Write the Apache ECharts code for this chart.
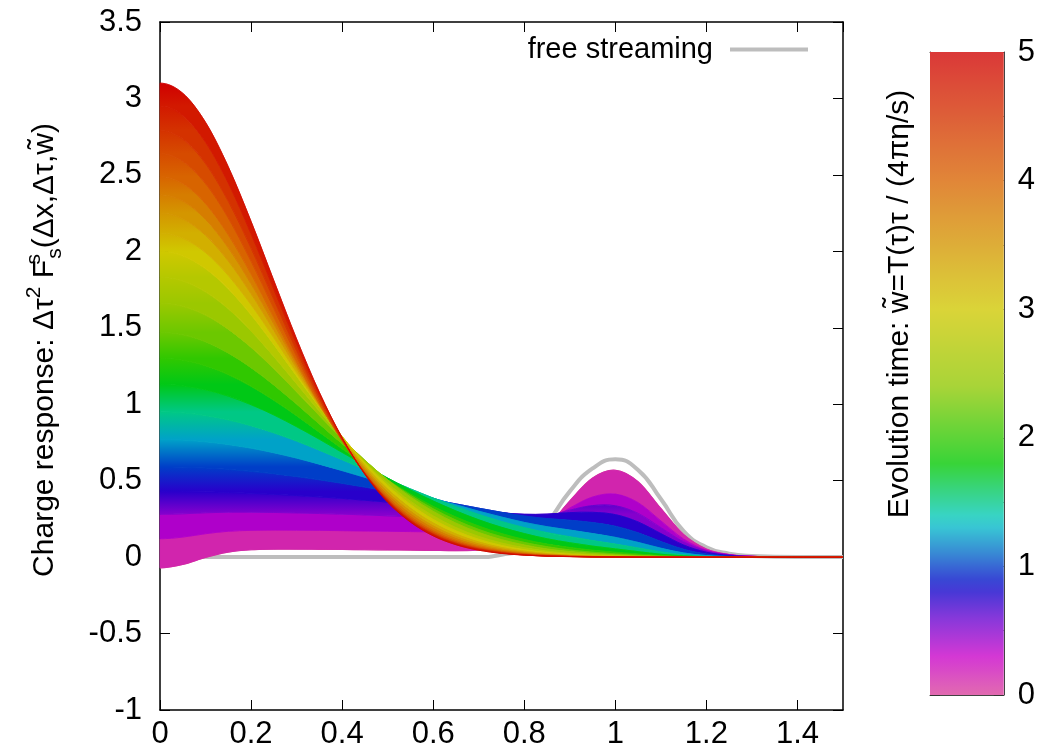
<!DOCTYPE html>
<html><head><meta charset="utf-8">
<script src="https://cdn.jsdelivr.net/npm/echarts@6/dist/echarts.min.js"></script>
<style>html,body{margin:0;padding:0;background:#fff}#c{width:1038px;height:750px}</style>
</head><body><div id="c"></div>
<script>
// x positions (Δx) at which every curve is read
const X = [0,0.05,0.1,0.15,0.2,0.25,0.3,0.35,0.4,0.45,0.5,0.55,0.6,0.65,0.7,0.75,0.8,0.85,0.9,0.95,1.0,1.05,1.1,1.15,1.2,1.25,1.3,1.4,1.5];
// evolution times w~ of the drawn curves
const W = [0,0.25,0.5,0.75,1,1.25,1.5,1.75,2,2.25,2.5,2.75,3,3.25,3.5,3.75,4,4.25,4.5,4.75,5];

const f_w000 = [-0.07,-0.048,-0.002,0.033,0.048,0.052,0.052,0.051,0.050,0.048,0.047,0.046,0.044,0.042,0.046,0.055,0.091,0.197,0.368,0.517,0.568,0.493,0.318,0.148,0.053,0.017,0.005,0,0];
const f_w025 = [0.12,0.131,0.153,0.169,0.175,0.177,0.176,0.175,0.173,0.171,0.169,0.167,0.165,0.162,0.162,0.165,0.181,0.234,0.321,0.393,0.412,0.356,0.237,0.118,0.045,0.016,0.005,0,0];
const f_w050 = [0.28,0.283,0.290,0.294,0.294,0.292,0.289,0.285,0.281,0.276,0.270,0.265,0.258,0.252,0.246,0.242,0.245,0.267,0.307,0.337,0.336,0.286,0.193,0.100,0.040,0.014,0.005,0,0];
const f_w075 = [0.430,0.429,0.427,0.423,0.418,0.411,0.403,0.394,0.384,0.372,0.360,0.347,0.333,0.318,0.304,0.290,0.280,0.281,0.291,0.293,0.278,0.230,0.154,0.079,0.032,0.011,0.003,0,0];
const f_w100 = [0.590,0.588,0.583,0.574,0.561,0.546,0.527,0.506,0.483,0.458,0.432,0.404,0.376,0.348,0.320,0.293,0.269,0.252,0.241,0.226,0.202,0.159,0.102,0.051,0.020,0.006,0.002,0,0];
const f_w125 = [0.770,0.766,0.755,0.737,0.713,0.683,0.648,0.608,0.566,0.522,0.476,0.430,0.385,0.342,0.300,0.262,0.227,0.199,0.177,0.154,0.129,0.096,0.058,0.027,0.010,0.003,0.001,0,0];
const f_w150 = [0.950,0.944,0.927,0.898,0.860,0.813,0.759,0.699,0.637,0.573,0.509,0.446,0.386,0.330,0.279,0.233,0.193,0.160,0.133,0.108,0.085,0.060,0.034,0.015,0.005,0.002,0,0,0];
const f_w175 = [1.130,1.121,1.095,1.053,0.997,0.930,0.853,0.771,0.685,0.600,0.517,0.439,0.367,0.302,0.244,0.195,0.154,0.120,0.094,0.072,0.054,0.036,0.019,0.008,0.003,0.001,0,0,0];
const f_w200 = [1.300,1.288,1.252,1.194,1.117,1.026,0.925,0.817,0.709,0.604,0.504,0.413,0.332,0.262,0.203,0.154,0.115,0.085,0.063,0.045,0.032,0.020,0.010,0.004,0.001,0,0,0,0];
const f_w225 = [1.470,1.454,1.409,1.335,1.239,1.126,1.001,0.871,0.742,0.619,0.505,0.404,0.316,0.242,0.181,0.133,0.096,0.068,0.047,0.032,0.021,0.012,0.006,0.002,0.001,0,0,0,0];
const f_w250 = [1.660,1.640,1.583,1.491,1.372,1.233,1.081,0.926,0.775,0.633,0.505,0.393,0.299,0.222,0.161,0.114,0.079,0.053,0.036,0.023,0.014,0.008,0.004,0.001,0,0,0,0,0];
const f_w275 = [1.830,1.806,1.735,1.624,1.479,1.312,1.134,0.954,0.781,0.623,0.484,0.366,0.270,0.193,0.135,0.092,0.061,0.039,0.025,0.015,0.008,0.004,0.002,0.001,0,0,0,0,0];
const f_w300 = [2.000,1.971,1.887,1.755,1.585,1.391,1.185,0.981,0.789,0.616,0.468,0.345,0.247,0.172,0.116,0.076,0.048,0.030,0.018,0.010,0.006,0.003,0.001,0,0,0,0,0,0];
const f_w325 = [2.120,2.087,1.992,1.842,1.651,1.435,1.208,0.986,0.780,0.598,0.444,0.320,0.223,0.151,0.099,0.063,0.039,0.023,0.013,0.007,0.004,0.002,0.001,0,0,0,0,0,0];
const f_w350 = [2.250,2.213,2.105,1.937,1.723,1.483,1.235,0.994,0.774,0.583,0.425,0.300,0.204,0.135,0.086,0.053,0.032,0.018,0.010,0.005,0.003,0.001,0,0,0,0,0,0,0];
const f_w375 = [2.370,2.329,2.209,2.023,1.788,1.526,1.258,1.000,0.768,0.569,0.408,0.282,0.188,0.121,0.075,0.045,0.026,0.015,0.008,0.004,0.002,0.001,0,0,0,0,0,0,0];
const f_w400 = [2.490,2.444,2.312,2.108,1.852,1.567,1.278,1.005,0.761,0.556,0.391,0.265,0.173,0.109,0.066,0.039,0.022,0.012,0.006,0.003,0.001,0,0,0,0,0,0,0,0];
const f_w425 = [2.640,2.589,2.443,2.218,1.936,1.626,1.314,1.021,0.764,0.549,0.380,0.253,0.162,0.100,0.059,0.034,0.019,0.010,0.005,0.002,0.001,0,0,0,0,0,0,0,0];
const f_w450 = [2.790,2.734,2.574,2.327,2.021,1.685,1.350,1.039,0.768,0.545,0.372,0.243,0.153,0.092,0.054,0.030,0.016,0.008,0.004,0.002,0.001,0,0,0,0,0,0,0,0];
const f_w475 = [2.950,2.889,2.714,2.446,2.114,1.752,1.394,1.063,0.778,0.546,0.367,0.237,0.147,0.087,0.050,0.027,0.014,0.007,0.004,0.002,0.001,0,0,0,0,0,0,0,0];
const f_w500 = [3.100,3.034,2.844,2.553,2.196,1.809,1.427,1.078,0.781,0.541,0.359,0.229,0.139,0.081,0.045,0.024,0.013,0.006,0.003,0.001,0.001,0,0,0,0,0,0,0,0];

// free streaming reference curve
const FREE = [0,0,0,0,0,0,0,0,0,0,0,0,0,0,0,0.015,0.06,0.22,0.43,0.58,0.64,0.57,0.38,0.17,0.065,0.022,0.007,0,0];

// colour palette (evolution time -> colour)
const PAL_W = [0, 0.3, 0.6, 0.85, 1.1, 1.35, 1.8, 2.4, 3.0, 4.0, 5.0];
const PAL_C = ['#d8409a','#c800c8','#6400d0','#0000c8','#0068c8','#00c8c8','#00c800','#90c800','#d0c800','#d86400','#d00000'];

const CURVES = [f_w000,f_w025,f_w050,f_w075,f_w100,f_w125,f_w150,f_w175,f_w200,f_w225,f_w250,f_w275,f_w300,f_w325,f_w350,f_w375,f_w400,f_w425,f_w450,f_w475,f_w500];

const FF = '"Liberation Sans", Arial, Helvetica, sans-serif';

function hex2rgb(h){ return [parseInt(h.substr(1,2),16),parseInt(h.substr(3,2),16),parseInt(h.substr(5,2),16)]; }
function palRGB(w){
  if (w <= PAL_W[0]) return hex2rgb(PAL_C[0]);
  for (let i=1;i<PAL_W.length;i++){
    if (w <= PAL_W[i]) {
      const t = (w-PAL_W[i-1])/(PAL_W[i]-PAL_W[i-1]);
      const a = hex2rgb(PAL_C[i-1]), b = hex2rgb(PAL_C[i]);
      return [0,1,2].map(j => Math.round(a[j]+(b[j]-a[j])*t));
    }
  }
  return hex2rgb(PAL_C[PAL_C.length-1]);
}
function pal(w){ const c = palRGB(w); return 'rgb('+c.join(',')+')'; }
function palLight(w){ const c = palRGB(w).map(v => Math.round(v*0.78 + 255*0.22)); return 'rgb('+c.join(',')+')'; }

// Catmull-Rom through the projected points; the curves are even in Δx, so the
// left end uses a mirrored neighbour (zero slope at Δx = 0)
function smoothPath(pts, move, mirrorStart, mirrorEnd){
  const n = pts.length;
  const get = (i) => {
    if (i < 0) return mirrorStart ? [2*pts[0][0]-pts[1][0], pts[1][1]] : pts[0];
    if (i > n-1) return mirrorEnd ? [2*pts[n-1][0]-pts[n-2][0], pts[n-2][1]] : pts[n-1];
    return pts[i];
  };
  let d = (move ? 'M' : 'L') + pts[0][0].toFixed(2) + ' ' + pts[0][1].toFixed(2);
  for (let i=0;i<n-1;i++){
    const p0 = get(i-1), p1 = pts[i], p2 = pts[i+1], p3 = get(i+2);
    const c1x = p1[0] + (p2[0]-p0[0])/6, c1y = p1[1] + (p2[1]-p0[1])/6;
    const c2x = p2[0] - (p3[0]-p1[0])/6, c2y = p2[1] - (p3[1]-p1[1])/6;
    d += ' C' + c1x.toFixed(2)+' '+c1y.toFixed(2)+' '+c2x.toFixed(2)+' '+c2y.toFixed(2)+' '+p2[0].toFixed(2)+' '+p2[1].toFixed(2);
  }
  return d;
}
function curvePts(api, arr){ return X.map((x,i) => api.coord([x, arr[i] == null ? 0 : arr[i]])); }

const chart = echarts.init(document.getElementById('c'), null, {renderer:'canvas'});

const cbStops = [];
for (let i=0;i<=50;i++){ const w = i/10; cbStops.push({offset: w/5, color: palLight(w)}); }

const axisLineStyle = {color:'#000', width:1.5};
const labelStyle = {fontSize: 31, fontFamily: FF, color:'#000'};

chart.setOption({
  animation: false,
  backgroundColor: '#fff',
  grid: [
    {left:160, top:22, width:683, height:688},
    {left:930, top:52, width:90, height:643}
  ],
  xAxis: [
    {gridIndex:0, type:'value', min:0, max:1.5, interval:0.2, position:'bottom',
     axisLine:{show:true, onZero:false, lineStyle:axisLineStyle},
     axisTick:{show:true, inside:true, length:10, lineStyle:{color:'#000', width:1}},
     axisLabel:{...labelStyle, margin:9, showMaxLabel:false}, splitLine:{show:false}},
    {gridIndex:0, type:'value', min:0, max:1.5, interval:0.2, position:'top',
     axisLine:{show:true, onZero:false, lineStyle:axisLineStyle},
     axisTick:{show:true, inside:true, length:10, lineStyle:{color:'#000', width:1}},
     axisLabel:{show:false}, splitLine:{show:false}},
    {gridIndex:1, type:'value', min:0, max:1, position:'bottom',
     axisLine:{show:true, onZero:false, lineStyle:{color:'#444', width:1}},
     axisTick:{show:false}, axisLabel:{show:false}, splitLine:{show:false}},
    {gridIndex:1, type:'value', min:0, max:1, position:'top',
     axisLine:{show:true, onZero:false, lineStyle:{color:'#444', width:1}},
     axisTick:{show:false}, axisLabel:{show:false}, splitLine:{show:false}}
  ],
  yAxis: [
    {gridIndex:0, type:'value', min:-1, max:3.5, interval:0.5, position:'left',
     axisLine:{show:true, onZero:false, lineStyle:axisLineStyle},
     axisTick:{show:true, inside:true, length:10, lineStyle:{color:'#000', width:1}},
     axisLabel:{...labelStyle, margin:18}, splitLine:{show:false}},
    {gridIndex:0, type:'value', min:-1, max:3.5, interval:0.5, position:'right',
     axisLine:{show:true, onZero:false, lineStyle:axisLineStyle},
     axisTick:{show:true, inside:true, length:10, lineStyle:{color:'#000', width:1}},
     axisLabel:{show:false}, splitLine:{show:false}},
    {gridIndex:1, type:'value', min:0, max:5, interval:1, position:'right',
     axisLine:{show:true, onZero:false, lineStyle:{color:'#444', width:1}},
     axisTick:{show:true, inside:true, length:10, lineStyle:{color:'#333', width:1}},
     minorTick:{show:true, splitNumber:2, length:10, lineStyle:{color:'#333', width:1}},
     axisLabel:{...labelStyle, margin:14}, splitLine:{show:false}},
    {gridIndex:1, type:'value', min:0, max:5, interval:1, position:'left',
     axisLine:{show:true, onZero:false, lineStyle:{color:'#444', width:1}},
     axisTick:{show:true, inside:true, length:10, lineStyle:{color:'#333', width:1}},
     minorTick:{show:true, splitNumber:2, length:10, lineStyle:{color:'#333', width:1}},
     axisLabel:{show:false}, splitLine:{show:false}}
  ],
  legend: {
    data:[{name:'free streaming', icon:'rect'}], right:225, top:30, align:'right',
    itemWidth:78, itemHeight:4,
    textStyle:{fontSize:29, fontFamily:FF, color:'#000', padding:[0,12,0,0]}
  },
  graphic: [
    {type:'text', x:45, y:350, rotation:Math.PI/2, z:10,
     style:{
       text:'{a|Charge response: Δτ}{p|2}{a| F}{q|s}{b|s}{a|(Δx,Δτ,w\u0303)}',
       align:'center', verticalAlign:'middle', textAlign:'center', textVerticalAlign:'middle',
       rich:{
         a:{fontSize:30, fontFamily:FF, fill:'#000', lineHeight:42, verticalAlign:'middle'},
         p:{fontSize:21, fontFamily:FF, fill:'#000', lineHeight:21, verticalAlign:'top'},
         q:{fontSize:21, fontFamily:FF, fill:'#000', lineHeight:21, verticalAlign:'top', width:1},
         b:{fontSize:21, fontFamily:FF, fill:'#000', lineHeight:21, verticalAlign:'bottom'}
       }
     }},
    {type:'text', x:900, y:304, rotation:Math.PI/2, z:10,
     style:{
       text:'Evolution time: w\u0303=T(τ)τ / (4πη/s)',
       font:'30px ' + FF, fill:'#000',
       align:'center', verticalAlign:'middle', textAlign:'center', textVerticalAlign:'middle'
     }}
  ],
  series: [
    {name:'free streaming', type:'line', xAxisIndex:0, yAxisIndex:0, z:1,
     data: X.map((x,i) => [x, FREE[i]]), symbol:'none', showSymbol:false, smooth:0.5,
     lineStyle:{color:'#bdbdbd', width:4}, itemStyle:{color:'#bdbdbd'}},
    {name:'curves', type:'custom', xAxisIndex:0, yAxisIndex:0, z:2,
     data: CURVES.map(() => [0, 0]),
     renderItem: function(params, api){
       const k = params.dataIndex;
       const up = curvePts(api, CURVES[k]);
       const upPath = smoothPath(up, true, true, false);
       if (k === 0) {
         return {type:'path', shape:{pathData: upPath}, style:{fill:'none', stroke: pal(W[0]), lineWidth:1.2}};
       }
       const lo = curvePts(api, CURVES[k-1]);
       const d = upPath + ' ' + smoothPath(lo.slice().reverse(), false, false, true) + ' Z';
       let fill;
       if (k >= 3) {
         // vertical colour blend between the two bounding curves, anchored at Δx = 0
         fill = new echarts.graphic.LinearGradient(0, lo[0][1], 0, up[0][1],
           [{offset:0, color: pal(W[k-1])}, {offset:1, color: pal(W[k])}], true);
       } else {
         fill = pal((W[k-1]+W[k])/2);
       }
       return {type:'group', children:[
         {type:'path', shape:{pathData:d}, style:{fill: fill, stroke: fill, lineWidth:0.8}},
         {type:'path', shape:{pathData:upPath}, style:{fill:'none', stroke: pal(W[k]), lineWidth:0.8, opacity:0.8}}
       ]};
     }},
    {name:'colorbar', type:'custom', xAxisIndex:2, yAxisIndex:2, z:1,
     data:[[0,0]],
     renderItem: function(params, api){
       const p0 = api.coord([0,5]), p1 = api.coord([1,0]);
       return {type:'rect', shape:{x:p0[0], y:p0[1], width:p1[0]-p0[0], height:p1[1]-p0[1]},
               style:{fill: new echarts.graphic.LinearGradient(0,1,0,0, cbStops)}};
     }}
  ]
});
</script></body></html>
